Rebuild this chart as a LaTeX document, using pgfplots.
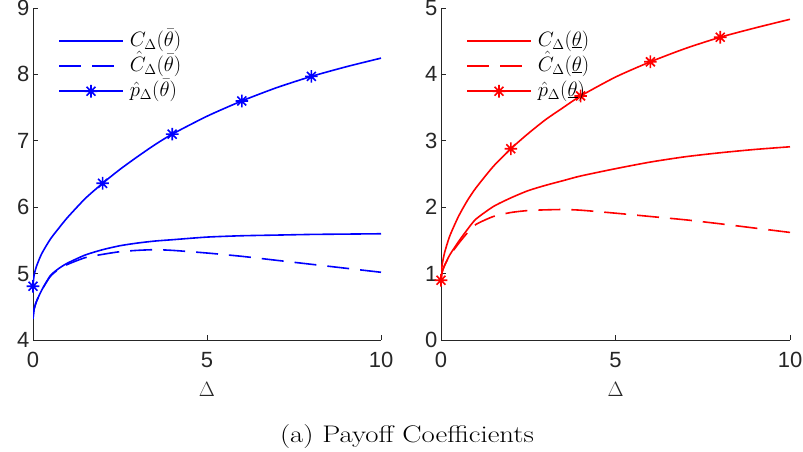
\documentclass[border=0pt]{standalone}
\usepackage{pgfplots}
\usepackage{pgfplotstable}
\pgfplotsset{compat=1.18}
\usepackage{fontspec}
\newfontfamily\helv{Liberation Sans}
\definecolor{axgray}{RGB}{38,38,38}

\pgfdeclareplotmark{matstar}{%
 \pgfpathmoveto{\pgfqpoint{-\pgfplotmarksize}{0pt}}\pgfpathlineto{\pgfqpoint{\pgfplotmarksize}{0pt}}%
 \pgfpathmoveto{\pgfqpoint{0pt}{-\pgfplotmarksize}}\pgfpathlineto{\pgfqpoint{0pt}{\pgfplotmarksize}}%
 \pgfpathmoveto{\pgfqpoint{-0.707\pgfplotmarksize}{-0.707\pgfplotmarksize}}\pgfpathlineto{\pgfqpoint{0.707\pgfplotmarksize}{0.707\pgfplotmarksize}}%
 \pgfpathmoveto{\pgfqpoint{-0.707\pgfplotmarksize}{0.707\pgfplotmarksize}}\pgfpathlineto{\pgfqpoint{0.707\pgfplotmarksize}{-0.707\pgfplotmarksize}}%
 \pgfusepathqstroke}

\pgfplotstableread{
d     pb    cb    chb   pr    cr    chr
0     4.81  4.32  4.32  0.90  0.90  0.90
0.03  4.97  4.46  4.46  1.12  1.02  1.02
0.1   5.11  4.58  4.58  1.31  1.12  1.12
0.25  5.30  4.75  4.75  1.565 1.28  1.27
0.5   5.52  4.97  4.96  1.86  1.48  1.45
0.75  5.69  5.08  5.07  2.095 1.66  1.61
1     5.85  5.16  5.14  2.29  1.82  1.74
1.5   6.13  5.28  5.24  2.615 2.01  1.86
2     6.36  5.36  5.29  2.88  2.14  1.92
2.5   6.57  5.42  5.33  3.11  2.25  1.95
3     6.76  5.46  5.35  3.32  2.33  1.96
3.5   6.94  5.49  5.36  3.50  2.40  1.965
4     7.10  5.51  5.35  3.675 2.47  1.955
5     7.37  5.55  5.31  3.96  2.58  1.91
6     7.60  5.57  5.26  4.19  2.68  1.86
7     7.80  5.58  5.20  4.39  2.76  1.81
8     7.97  5.59  5.14  4.56  2.82  1.75
9     8.115 5.595 5.08  4.70  2.87  1.685
10    8.245 5.60  5.02  4.83  2.91  1.62
}\data

\tikzset{
  mline/.style={line width=1.6pt, smooth, tension=0.4},
  mdash/.style={line width=1.6pt, smooth, tension=0.4, dash pattern=on 22pt off 11pt},
  mmark/.style={line width=1.6pt, smooth, tension=0.4, mark=matstar, mark size=6.3pt, mark options={solid}, mark indices={1,9,13,15,17}},
}

\pgfplotsset{
  myaxis/.style={
    scale only axis, height=332pt,
    xmin=0, xmax=10, xtick={0,5,10},
    axis x line*=bottom, axis y line*=left,
    axis line style={axgray, line width=0.6pt, -},
    every tick/.style={axgray, line width=0.6pt},
    tick align=inside, major tick length=5pt,
    ticklabel style={font=\helv\fontsize{22}{24}\selectfont, text=axgray},
    xticklabel style={yshift=-9pt},
    /pgf/number format/assume math mode=true,
    xlabel={$\Delta$},
    xlabel style={font=\fontsize{21}{24}\selectfont, text=axgray, at={(axis description cs:0.5,0)}, anchor=center, yshift=-49pt},
    legend cell align=left,
    legend style={draw=none, fill=none, font=\fontsize{20}{24}\selectfont,
      anchor=north west, at={(axis description cs:0,1)}, xshift=25pt, yshift=-23pt,
      inner sep=0pt, row sep=5pt,
      nodes={inner sep=0pt, text height=15pt, text depth=5pt},
      /tikz/every odd column/.append style={column sep=6pt}},
    legend image code/.code={\draw[##1, mark indices={2}] plot coordinates {(0pt,0pt) (32pt,0pt) (64pt,0pt)};},
  },
}

\begin{document}
\begin{tikzpicture}
\path[use as bounding box] (0,0) rectangle (803pt,452pt);
\begin{axis}[myaxis, at={(33pt,112pt)}, anchor=south west, width=348pt,
  ymin=4, ymax=9, ytick={4,5,6,7,8,9}]
\addplot[blue, mline] table[x=d, y=cb] {\data};
\addlegendentry{$C_\Delta(\bar{\theta})$}
\addplot[blue, mdash] table[x=d, y=chb] {\data};
\addlegendentry{$\hat{C}_\Delta(\bar{\theta})$}
\addplot[blue, mmark] table[x=d, y=pb] {\data};
\addlegendentry{$\hat{p}_\Delta(\bar{\theta})$}
\end{axis}
\begin{axis}[myaxis, at={(441pt,112pt)}, anchor=south west, width=349pt,
  ymin=0, ymax=5, ytick={0,1,2,3,4,5}]
\addplot[red, mline] table[x=d, y=cr] {\data};
\addlegendentry{$C_\Delta(\underline{\theta})$}
\addplot[red, mdash] table[x=d, y=chr] {\data};
\addlegendentry{$\hat{C}_\Delta(\underline{\theta})$}
\addplot[red, mmark] table[x=d, y=pr] {\data};
\addlegendentry{$\hat{p}_\Delta(\underline{\theta})$}
\end{axis}
\node[font=\fontsize{24}{28}\selectfont] at (407pt,15pt) {\scalebox{1.2}[1]{(a)~Payoff Coefficients}};
\end{tikzpicture}
\end{document}
